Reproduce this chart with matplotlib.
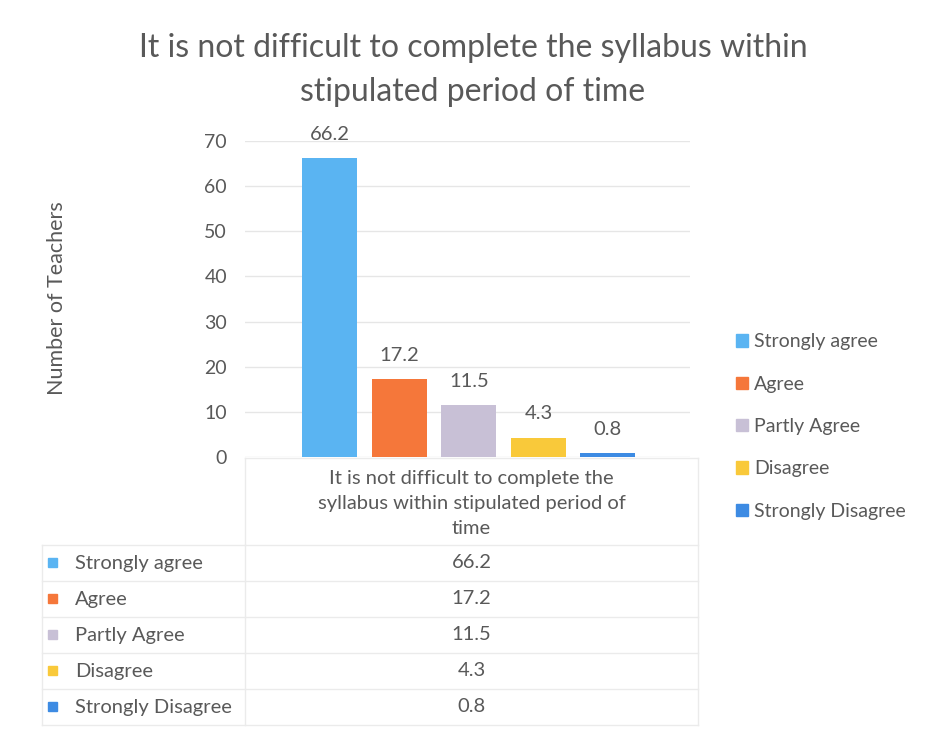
import matplotlib.pyplot as plt
from matplotlib.patches import Patch

categories = ["Strongly agree", "Agree", "Partly Agree", "Disagree", "Strongly Disagree"]
values = [66.2, 17.2, 11.5, 4.3, 0.8]
colors = ["#5AB4F2", "#F5773A", "#C8C0D6", "#F9C93A", "#3D8BE3"]
yticks = [0, 10, 20, 30, 40, 50, 60, 70]
title = "It is not difficult to complete the syllabus within\nstipulated period of time"
group_label = "It is not difficult to complete the\nsyllabus within stipulated period of\ntime"

TXT = "#595959"
GRID = "#E6E6E6"
W, H = 928, 734

plt.rcParams["font.family"] = ["Lato", "DejaVu Sans"]

fig = plt.figure(figsize=(W / 100, H / 100), dpi=100)


def fx(px):
    return px / W


def fy(py):
    return 1 - py / H


# bar chart
ax = fig.add_axes([fx(245), fy(457), fx(690) - fx(245), fy(141) - fy(457)])
x = range(len(values))
ax.bar(x, values, width=0.79, color=colors, zorder=3)
for i, v in zip(x, values):
    ax.annotate(f"{v}", (i, v), xytext=(0, 11), textcoords="offset points",
                ha="center", va="bottom", fontsize=14.5, color=TXT)
ax.set_xlim(-1.22, 5.18)
ax.set_ylim(0, 70)
ax.set_yticks(yticks)
ax.yaxis.grid(True, color=GRID, linewidth=1, zorder=0)
ax.set_xticks([])
for s in ax.spines.values():
    s.set_visible(False)
ax.tick_params(axis="y", length=0, pad=13, labelsize=14, labelcolor=TXT)
fig.text(fx(57), fy(298), "Number of Teachers", rotation=90, ha="center",
         va="center", fontsize=15.5, color=TXT)

fig.text(fx(473), fy(70), title, ha="center", va="center", fontsize=23,
         color=TXT, linespacing=1.62)

# data table
tx = fig.add_axes([0, 0, 1, 1])
tx.set_xlim(0, W)
tx.set_ylim(H, 0)
tx.axis("off")
left, mid, right = 42, 245, 698
head_top, head_bot, row_h = 458, 545, 36
lc = "#EBEBEB"
tx.plot([mid, right], [head_top, head_top], color=lc, lw=1)
tx.plot([mid, mid], [head_top, head_bot], color=lc, lw=1)
tx.plot([right, right], [head_top, head_bot + row_h * len(values)], color=lc, lw=1)
tx.text((mid + right) / 2, (head_top + head_bot) / 2 + 2, group_label,
        ha="center", va="center", fontsize=14.5, color=TXT, linespacing=1.55)
for i, (cat, v, c) in enumerate(zip(categories, values, colors)):
    top = head_bot + row_h * i
    tx.plot([left, right], [top, top], color=lc, lw=1)
    yc = top + row_h / 2
    tx.add_patch(plt.Rectangle((left + 6, yc - 5), 9, 9, color=c))
    tx.text(left + 33, yc, cat, ha="left", va="center", fontsize=14.5, color=TXT)
    tx.text((mid + right) / 2, yc, f"{v}", ha="center", va="center",
            fontsize=14.5, color=TXT)
bottom = head_bot + row_h * len(values)
tx.plot([left, right], [bottom, bottom], color=lc, lw=1)
tx.plot([left, left], [head_bot, bottom], color=lc, lw=1)
tx.plot([mid, mid], [head_bot, bottom], color=lc, lw=1)

# legend
handles = [Patch(color=c, label=l) for c, l in zip(colors, categories)]
fig.legend(handles=handles, loc="upper left", bbox_to_anchor=(fx(719), fy(316)),
           frameon=False, fontsize=14, labelcolor=TXT, handlelength=0.6,
           handleheight=0.6, handletextpad=0.3, labelspacing=1.3)

fig.savefig("out.png", dpi=100, facecolor="white")
